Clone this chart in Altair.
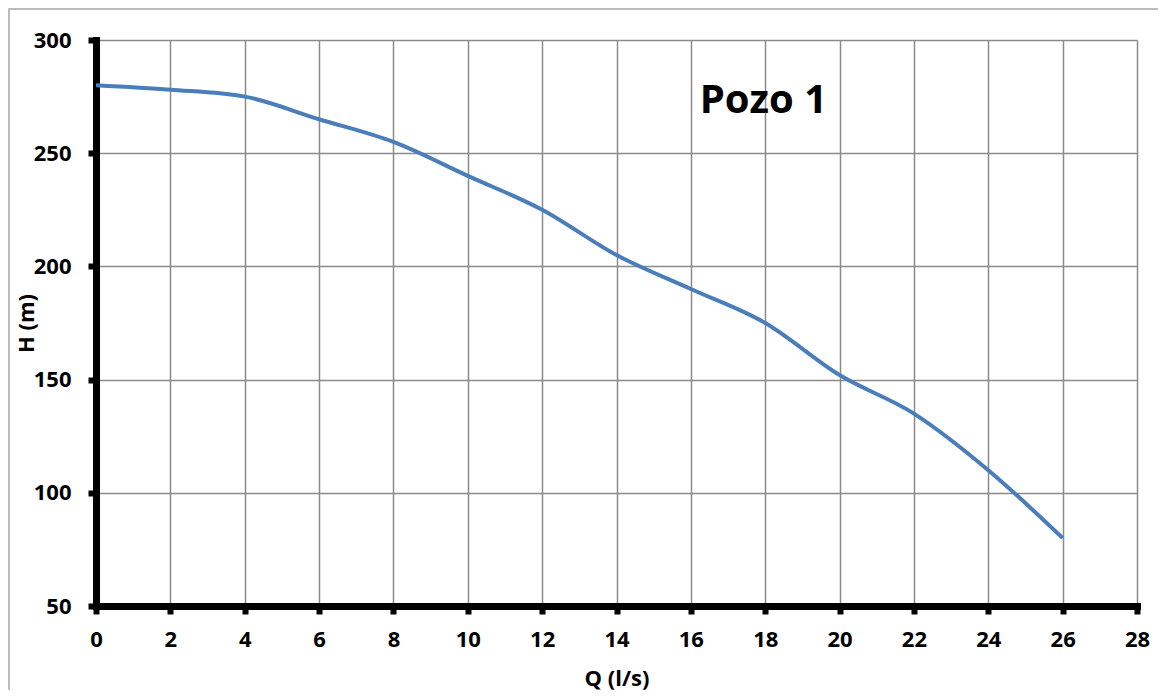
import altair as alt
import pandas as pd

q_values = [0, 2, 4, 6, 8, 10, 12, 14, 16, 18, 20, 22, 24, 26]
h_values = [280, 278, 275, 265, 255, 240, 225, 205, 190, 175, 152, 135, 110, 80]
x_ticks = list(range(0, 29, 2))
y_ticks = [50, 100, 150, 200, 250, 300]
label_text = ["Pozo 1"]
label_q = [17.95]
label_h = [273]

df = pd.DataFrame({"Q": q_values, "H": h_values})
ann = pd.DataFrame({"Q": label_q, "H": label_h, "t": label_text})

FONT = "Open Sans"

xscale = alt.Scale(domain=[0, 28], nice=False, zero=False)
yscale = alt.Scale(domain=[50, 300], nice=False, zero=False)

border = alt.Chart(pd.DataFrame({"a": [0]})).mark_rect(
    fill=None, stroke="#a6a6a6", strokeWidth=1.5, clip=False
).encode(
    x=alt.value(-87), x2=alt.value(1080), y=alt.value(-31), y2=alt.value(700)
)

line = alt.Chart(df).mark_line(
    color="#4a7ebb", strokeWidth=4, interpolate="monotone"
).encode(
    x=alt.X("Q:Q", scale=xscale, title="Q (l/s)",
            axis=alt.Axis(values=x_ticks, format="d", titleY=72, titleBaseline="middle")),
    y=alt.Y("H:Q", scale=yscale, title="H (m)",
            axis=alt.Axis(values=y_ticks, format="d", titleX=-70, titleY=283,
                          titleAngle=-90, titleBaseline="middle", titleAlign="center")),
)

text = alt.Chart(ann).mark_text(
    font=FONT, fontSize=40, fontWeight="bold", color="black", align="center", baseline="middle"
).encode(
    x=alt.X("Q:Q", scale=xscale),
    y=alt.Y("H:Q", scale=yscale),
    text="t:N",
)

chart = alt.layer(border, line, text).properties(
    width=1041, height=566,
    autosize=alt.AutoSizeParams(type="none"),
    padding={"left": 88, "top": 32, "right": 21, "bottom": 84},
).configure_view(stroke=None).configure_axis(
    domainColor="black", domainWidth=7, domainCap="square",
    tickColor="black", tickWidth=6, tickSize=8,
    gridColor="#8a8a8a", gridWidth=1.5,
    labelFont=FONT, labelFontSize=22, labelFontWeight="bold", labelColor="black",
    titleFont=FONT, titleFontSize=22, titleFontWeight="bold", titleColor="black",
    labelFlush=False, labelOverlap=False,
).configure_axisY(
    labelPadding=17,
).configure_axisX(
    labelPadding=15, labelBaseline="top",
)

chart.save("out.html", embed_options={"renderer": "svg", "actions": False})
